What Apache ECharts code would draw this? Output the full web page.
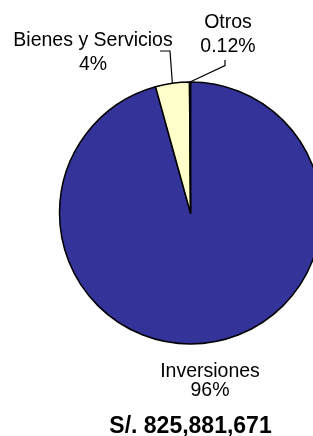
<!DOCTYPE html>
<html>
<head>
<meta charset="utf-8">
<script src="https://cdn.jsdelivr.net/npm/echarts@6/dist/echarts.min.js"></script>
<style>
html,body{margin:0;padding:0;background:#fff;}
#c{width:313px;height:436px;}
</style>
</head>
<body>
<div id="c"></div>
<script>
var categories = ['Inversiones', 'Bienes y Servicios', 'Otros'];
var values = [95.70, 4.18, 0.12];
var pctLabels = ['96%', '4%', '0.12%'];
var colors = ['#333399', '#FFFFCC', '#CCFFFF'];
var totalLabel = 'S/. 825,881,671';

var FONT = '"Liberation Sans", Arial, Helvetica, sans-serif';
// label block centers (layout only)
var labelPos = [
  {x: 210, y: 381, lh: 19},
  {x: 93, y: 52.5, lh: 24.5},
  {x: 228, y: 34.5, lh: 24.5}
];

var chart = echarts.init(document.getElementById('c'), null, {renderer: 'canvas'});
chart.setOption({
  animation: false,
  backgroundColor: '#ffffff',
  title: {
    text: totalLabel,
    left: 190.5,
    top: 415,
    padding: 0,
    textAlign: 'center',
    textStyle: {fontFamily: FONT, fontWeight: 'bold', fontSize: 23, lineHeight: 23, color: '#000'}
  },
  series: [{
    type: 'pie',
    center: [190.5, 213],
    radius: 131,
    startAngle: 90,
    clockwise: true,
    avoidLabelOverlap: false,
    itemStyle: {borderColor: '#000', borderWidth: 1.5},
    emphasis: {disabled: true},
    label: {
      show: true,
      position: 'outside',
      color: '#000',
      fontFamily: FONT,
      fontSize: 19.5,
      align: 'center',
      formatter: function (p) { return p.name + '\n' + pctLabels[p.dataIndex]; }
    },
    labelLine: {show: true, lineStyle: {color: '#000', width: 1.2}, length: 10, length2: 10},
    labelLayout: function (p) {
      var lp = labelPos[p.dataIndex];
      var res = {x: lp.x, y: lp.y, align: 'center', verticalAlign: 'middle'};
      var a = p.labelLinePoints && p.labelLinePoints[0];
      if (p.dataIndex === 1 && a) {
        res.labelLinePoints = [[a[0], a[1]], [lp.x + 77, lp.y - 1.5], [lp.x + 67, lp.y - 1.5]];
      } else if (p.dataIndex === 2 && a) {
        res.labelLinePoints = [[a[0], a[1]], [lp.x - 3, lp.y + 31], [lp.x - 3, lp.y + 25.5]];
      }
      return res;
    },
    data: categories.map(function (c, i) {
      var d = {name: c, value: values[i], itemStyle: {color: colors[i]}};
      if (i === 0) d.labelLine = {show: false};
      d.label = {lineHeight: labelPos[i].lh};
      return d;
    })
  }]
});
</script>
</body>
</html>
